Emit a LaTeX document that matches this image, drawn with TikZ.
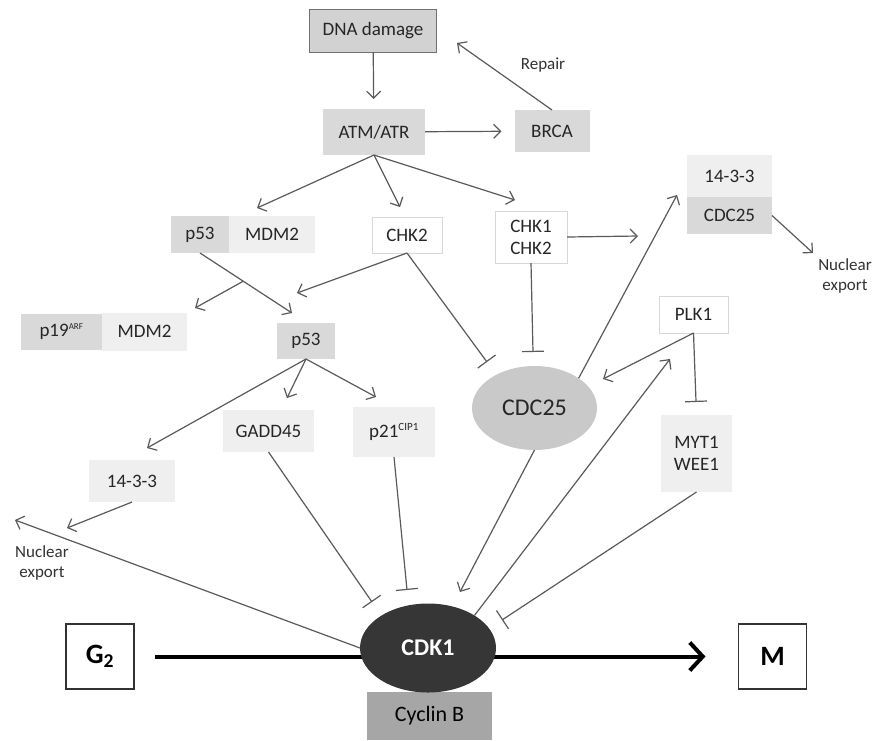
\documentclass[tikz,border=0pt]{standalone}
\usepackage{fontspec}
\setmainfont{Carlito}
\usetikzlibrary{arrows.meta,positioning,calc,shapes.geometric}

\definecolor{fondoA}{HTML}{D9D9D9}
\definecolor{fondoB}{HTML}{EFEFEF}
\definecolor{fondoDNA}{HTML}{D2D2D2}
\definecolor{bordeDNA}{HTML}{707070}
\definecolor{bordeClaro}{HTML}{D8D8D8}
\definecolor{linea}{HTML}{5A5A5A}
\definecolor{elipseCDC}{HTML}{C9C9C9}
\definecolor{elipseCDK}{HTML}{363636}
\definecolor{ciclina}{HTML}{A6A6A6}

\tikzset{
  caja/.style={inner sep=0pt, outer sep=0pt, align=center,
    font=\fontsize{19}{22}\selectfont, text=black!85},
  gris/.style={caja, fill=fondoA},
  claro/.style={caja, fill=fondoB},
  blanca/.style={caja, fill=white, draw=bordeClaro, line width=1pt},
  fase/.style={caja, fill=white, draw=black!80, line width=1.3pt,
    minimum width=68pt, minimum height=65pt,
    font=\fontsize{28}{30}\selectfont\bfseries, text=black},
  rotulo/.style={inner sep=0pt, align=center,
    font=\fontsize{17}{20}\selectfont, text=black!80},
  act/.style={draw=linea, line width=1.2pt,
    -{Straight Barb[length=7pt,width=14pt]}},
  inh/.style={draw=linea, line width=1.2pt, -{Bar[width=22pt]}}
}

\begin{document}
\begin{tikzpicture}[x=1pt,y=-1pt]
  \useasboundingbox[fill=white] (0,0) rectangle (877,740);

  % Paso 1: Cajas de la parte alta (daño al ADN)
  \node[caja, fill=fondoDNA, draw=bordeDNA, line width=1.2pt,
    minimum width=127pt, minimum height=43pt] (dna) at (373,31) {DNA damage};
  \node[gris, minimum width=102pt, minimum height=46pt] (atm) at (374,132) {ATM/ATR};
  \node[gris, minimum width=75pt, minimum height=42pt] (brca) at (552,131) {BRCA};
  \node[rotulo] (rep) at (543,65) {Repair};

  % Paso 2: Segunda fila (p53, MDM2, CHK2, CHK1)
  \node[gris, minimum width=58pt, minimum height=37pt] (p53a) at (200,234.5) {p53};
  \node[claro, minimum width=86pt, minimum height=37pt, right=0pt of p53a] (mdma) {MDM2};
  \node[blanca, minimum width=70pt, minimum height=36pt] (chk2) at (407,235) {CHK2};
  \node[blanca, minimum width=72pt, minimum height=52pt] (chkb) at (531,237) {CHK1\\CHK2};

  % Paso 3: Complejo 14-3-3 / CDC25 y su salida del núcleo
  \node[claro, minimum width=85pt, minimum height=42pt] (ta) at (729.5,176) {14-3-3};
  \node[gris, minimum width=85pt, minimum height=37pt, below=0pt of ta] (cdcb) {CDC25};
  \node[rotulo] (nexa) at (845,276) {Nuclear\\export};

  % Paso 4: Rama de p53
  \node[gris, minimum width=81pt, minimum height=36pt] (p19) at (61.5,331.5) {p19\textsuperscript{\fontsize{9}{9}\selectfont ARF}};
  \node[claro, minimum width=85pt, minimum height=38pt, right=0pt of p19] (mdmb) {MDM2};
  \node[gris, minimum width=58pt, minimum height=36pt] (p53b) at (306,341) {p53};
  \node[claro, minimum width=91pt, minimum height=42pt] (gadd) at (268.5,431) {GADD45};
  \node[claro, minimum width=82pt, minimum height=50pt] (p21) at (394,432) {p21\textsuperscript{\fontsize{11}{11}\selectfont CIP1}};
  \node[claro, minimum width=86pt, minimum height=42pt] (tb) at (132,481) {14-3-3};
  \node[rotulo] (nexb) at (42,563) {Nuclear\\export};

  % Paso 5: CDC25, PLK1 y MYT1/WEE1
  \node[caja, ellipse, fill=elipseCDC, minimum width=125pt, minimum height=84pt,
    font=\fontsize{24}{26}\selectfont] (cdce) at (534.5,408) {CDC25};
  \node[blanca, minimum width=69pt, minimum height=37pt] (plk) at (693.5,314.5) {PLK1};
  \node[claro, minimum width=71pt, minimum height=77pt] (myt) at (696.5,453.5) {MYT1\\WEE1};

  % Paso 6: Fases G2 y M con la flecha gruesa por detrás de CDK1
  \node[fase] (g2) at (100,656.5) {G\textsubscript{2}};
  \node[fase] (m) at (772.5,656.5) {M};
  \draw[line width=4pt, shorten <=21pt, shorten >=33pt,
    -{Straight Barb[length=13pt,width=28pt,line width=4pt]}] (g2) -- (m);

  % Paso 7: Ciclina B y CDK1
  \node[caja, fill=ciclina, minimum width=125pt, minimum height=48pt,
    font=\fontsize{22}{24}\selectfont, text=black] (cyc) at (429.5,716) {Cyclin B};
  \node[caja, ellipse, fill=elipseCDK, minimum width=136pt, minimum height=89pt,
    font=\fontsize{24}{26}\selectfont\bfseries, text=white] (cdk) at (428,648) {CDK1};

  % Paso 8: Puntos libres donde acaban las flechas
  \coordinate (repx) at (457,43);
  \coordinate (xp53) at (257,208);
  \coordinate (xchk2) at (400,207);
  \coordinate (xchkb) at (515,200);
  \coordinate (xout) at (638,236);
  \coordinate (xnexa) at (813,253);
  \coordinate (xp53b) at (292,313);
  \coordinate (xp19) at (195,308);
  \coordinate (xchk2b) at (297,293);
  \coordinate (tcdca) at (487,362);
  \coordinate (tcdcb) at (533,352);
  \coordinate (xtb) at (147,448);
  \coordinate (xgadd) at (287,398);
  \coordinate (xp21) at (376,397);
  \coordinate (xnexb) at (67,528);
  \coordinate (xnexc) at (15,520);
  \coordinate (tgadd) at (372,602);
  \coordinate (tp21) at (407,590);
  \coordinate (xcdk) at (460,592);
  \coordinate (xplk) at (670,359);
  \coordinate (xta) at (677,195);
  \coordinate (xcdce) at (603,379);
  \coordinate (tcdk) at (502,620);
  \coordinate (rama) at ($(p53a.south)!.47!(xp53b)$);

  % Paso 9: Flechas de activación
  \draw[act, shorten >=10pt] (dna) -- (atm);
  \draw[act, shorten >=13pt] (atm) -- (brca);
  \draw[act] (brca.north) -- (repx);
  \draw[act] (atm.south) -- (xp53);
  \draw[act] (atm.south) -- (xchk2);
  \draw[act] (atm.south) -- (xchkb);
  \draw[act] (chkb.east) -- (xout);
  \draw[act] (cdcb.east) -- (xnexa);
  \draw[act] (p53a.south) -- (xp53b);
  \draw[act] (rama) -- (xp19);
  \draw[act] (chk2.south) -- (xchk2b);
  \draw[act] (p53b.south) -- (xtb);
  \draw[act] (p53b.south) -- (xgadd);
  \draw[act] (p53b.south) -- (xp21);
  \draw[act] (tb.south) -- (xnexb);
  \draw[act] (cdk.west) -- (xnexc);
  \draw[act] (cdce.south) -- (xcdk);
  \draw[act] (cdk.35) -- (xplk);
  \draw[act] (cdce.34) -- (xta);
  \draw[act] (plk.south) -- (xcdce);

  % Paso 10: Flechas de inhibición
  \draw[inh] (chk2.south) -- (tcdca);
  \draw[inh] (chkb.south) -- (tcdcb);
  \draw[inh] (gadd.south) -- (tgadd);
  \draw[inh] (p21.south) -- (tp21);
  \draw[inh, shorten >=13pt] (plk.south) -- (myt.north);
  \draw[inh] (myt.south) -- (tcdk);
\end{tikzpicture}
\end{document}
